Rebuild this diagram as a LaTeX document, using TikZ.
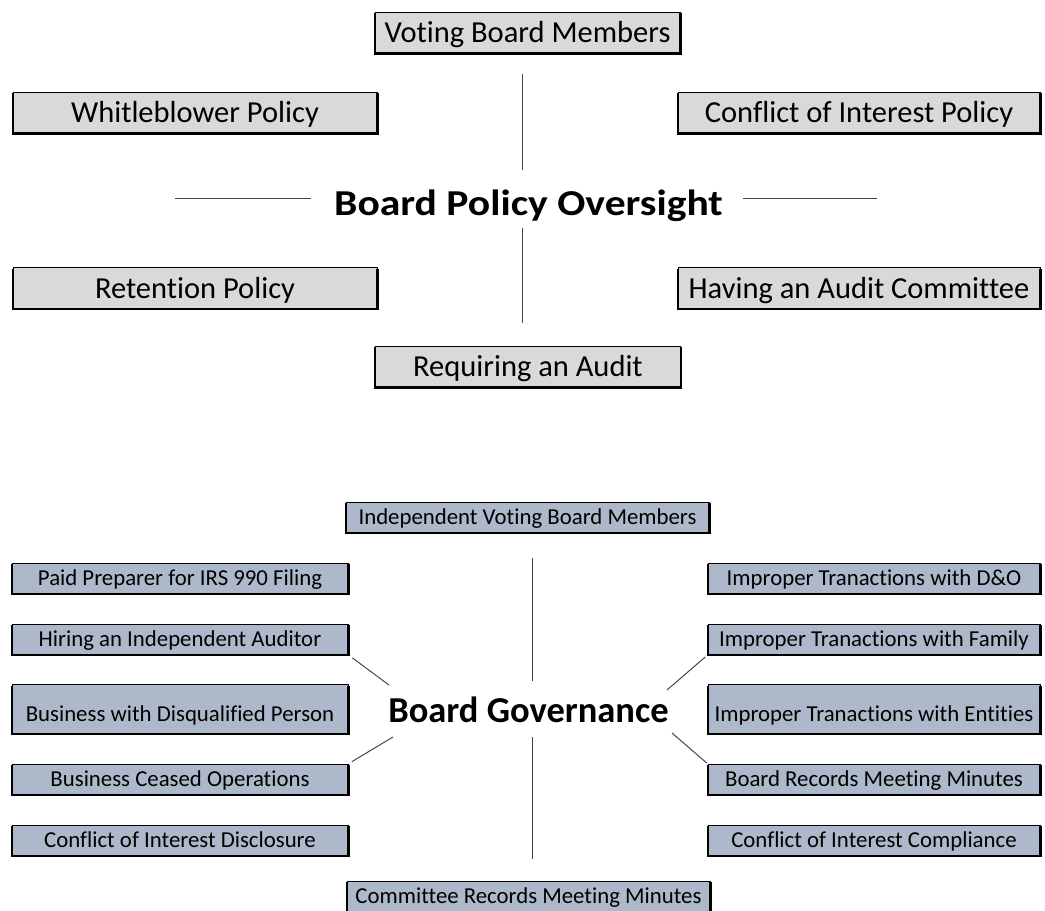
\documentclass[tikz,border=0pt]{standalone}
\usepackage{fontspec}
\setmainfont{Carlito}[Ligatures=NoCommon]
\usetikzlibrary{positioning}
\definecolor{policygray}{RGB}{217,217,217}
\definecolor{govblue}{RGB}{173,185,202}
\definecolor{spokegray}{RGB}{70,70,70}

\begin{document}
\begin{tikzpicture}[
    x=1pt, y=-1pt,
    node distance=29.5pt,
    box/.style={rectangle, draw, line width=0.8pt, inner sep=0pt, align=center, text depth=0pt},
    policybox/.style={box, fill=policygray, minimum width=364pt, minimum height=41pt, text height=19.8pt, font=\fontsize{30.5}{36}\selectfont},
    govbox/.style={box, fill=govblue, minimum width=336pt, minimum height=30.5pt, text height=14.8pt, font=\fontsize{22.8}{27}\selectfont},
    tallbox/.style={minimum height=49pt, text height=23.8pt},
    title/.style={anchor=base, inner sep=0pt, font=\bfseries\fontsize{36.5}{44}\selectfont},
    edge/.style={line width=2.2pt},
    spoke/.style={draw=spokegray, line width=1pt}
]
    \useasboundingbox (0,0) rectangle (1045,911);

    % policy oversight
    \node[title] (oversight) at (528.5,215) {\scalebox{1.14}[1]{Board Policy Oversight}};
    \node[policybox, minimum width=305pt] (voting) at (527.5,32.5) {Voting Board Members};
    \node[policybox] (whistle) at (195,112.5) {Whitleblower Policy};
    \node[policybox, below=134pt of whistle] (retention) {Retention Policy};
    \node[policybox, minimum width=362pt] (conflict) at (859,112.5) {Conflict of Interest Policy};
    \node[policybox, minimum width=362pt, below=134pt of conflict] (auditcom) {Having an Audit Committee};
    \node[policybox, minimum width=305pt] (requiring) at (528,366.5) {Requiring an Audit};

    \coordinate (ovtop) at (522,170);
    \coordinate (ovbottom) at (522,228);
    \coordinate (ovleft) at (175,198);
    \coordinate (ovright) at (877,198);
    \draw[spoke, shorten <=21pt] (voting.south -| ovtop) -- (ovtop);
    \draw[spoke, shorten <=23pt] (requiring.north -| ovbottom) -- (ovbottom);
    \draw[spoke, shorten <=23pt] (oversight.west |- ovleft) -- (ovleft);
    \draw[spoke, shorten <=20pt] (oversight.east |- ovright) -- (ovright);

    % governance
    \node[title] (governance) at (528.5,722) {Board Governance};
    \node[govbox, minimum width=363pt] (independent) at (527.5,517.5) {Independent Voting Board Members};

    \node[govbox] (preparer) at (180,578.5) {Paid Preparer for IRS 990 Filing};
    \node[govbox, below=of preparer] (hiring) {Hiring an Independent Auditor};
    \node[govbox, tallbox, below=of hiring] (disqualified) {Business with Disqualified Person};
    \node[govbox, below=of disqualified] (ceased) {Business Ceased Operations};
    \node[govbox, below=of ceased] (disclosure) {Conflict of Interest Disclosure};

    \node[govbox, minimum width=332pt] (dando) at (874,578.5) {Improper Tranactions with D\&O};
    \node[govbox, minimum width=332pt, below=of dando] (family) {Improper Tranactions with Family};
    \node[govbox, minimum width=332pt, tallbox, below=of family] (entities) {Improper Tranactions with Entities};
    \node[govbox, minimum width=332pt, below=of entities] (records) {Board Records Meeting Minutes};
    \node[govbox, minimum width=332pt, below=of records] (compliance) {Conflict of Interest Compliance};

    \node[govbox, minimum width=363pt] (committee) at (528.5,896.5) {Committee Records Meeting Minutes};

    % heavier left, bottom and right edges
    \foreach \b in {voting,whistle,retention,conflict,auditcom,requiring,
        independent,preparer,hiring,disqualified,ceased,disclosure,
        dando,family,entities,records,compliance,committee}
        \draw[edge] ([yshift=-1.5pt]\b.north west) -- (\b.south west) -- (\b.south east) -- ([yshift=-1.5pt]\b.north east);

    \coordinate (govtop) at (532,681);
    \coordinate (govbottom) at (532,737);
    \coordinate (govnw) at (389,685);
    \coordinate (govsw) at (393,737);
    \coordinate (govne) at (667,690);
    \coordinate (govse) at (672,733);
    \draw[spoke, shorten <=25pt] (independent.south -| govtop) -- (govtop);
    \draw[spoke, shorten <=22pt] (committee.north -| govbottom) -- (govbottom);
    \draw[spoke, shorten <=5pt] (hiring.south east) -- (govnw);
    \draw[spoke, shorten <=4pt] (ceased.north east) -- (govsw);
    \draw[spoke, shorten <=3pt] (family.south west) -- (govne);
    \draw[spoke, shorten <=1pt] (records.north west) -- (govse);
\end{tikzpicture}
\end{document}
